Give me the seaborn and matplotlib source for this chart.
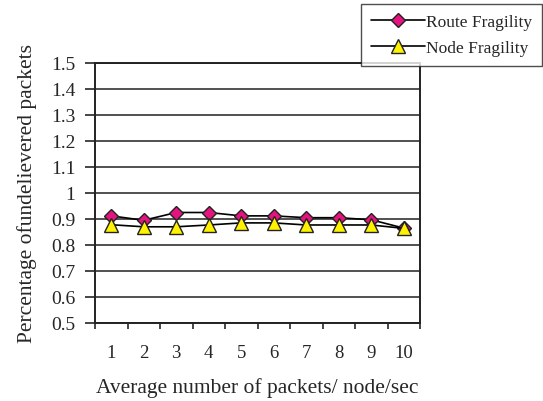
import matplotlib
matplotlib.use("Agg")
import matplotlib.pyplot as plt
from matplotlib.ticker import FixedLocator
import seaborn as sns

# Offered load (packets per node per second)
load = [1, 2, 3, 4, 5, 6, 7, 8, 9, 10]
route_fragility = [0.912, 0.895, 0.925, 0.925, 0.912, 0.912, 0.905, 0.905, 0.897, 0.865]
node_fragility = [0.878, 0.870, 0.870, 0.877, 0.885, 0.885, 0.877, 0.877, 0.877, 0.864]
y_ticks = [0.5, 0.6, 0.7, 0.8, 0.9, 1, 1.1, 1.2, 1.3, 1.4, 1.5]
y_tick_labels = ["0.5", "0.6", "0.7", "0.8", "0.9", "1", "1.1", "1.2", "1.3", "1.4", "1.5"]

sns.set_style("white")
plt.rcParams["font.family"] = ["Liberation Serif", "DejaVu Serif"]

fig = plt.figure(figsize=(5.43, 4.02), dpi=100)
ax = fig.add_axes([95 / 543, 1 - 324 / 402, 325 / 543, 260 / 402])

for ys, marker, face, ms, name in [
    (route_fragility, "D", "#E4147F", 7.5, "Route Fragility"),
    (node_fragility, "^", "#FFF200", 10, "Node Fragility"),
]:
    sns.lineplot(x=load, y=ys, ax=ax, color="black", linewidth=1.2,
                 marker=marker, markersize=ms, markerfacecolor=face,
                 markeredgecolor="#222222", markeredgewidth=1.0, label=name)

ax.set_xlim(0.5, 10.5)
ax.set_ylim(0.5, 1.5)
ax.set_yticks(y_ticks)
ax.set_yticklabels(y_tick_labels)
ax.set_xticks(load)
ax.set_xticklabels([str(v) for v in load])
ax.xaxis.set_minor_locator(FixedLocator([v + 0.5 for v in range(0, 11)]))
ax.tick_params(axis="x", which="major", length=0, pad=15, labelsize=13.5)
ax.tick_params(axis="x", which="minor", length=4, width=1.2, direction="out", bottom=True)
ax.tick_params(axis="y", which="major", length=7, width=1.2, direction="out", left=True,
               pad=7, labelsize=14)

ax.grid(axis="y", color="#222222", linewidth=1.1)
ax.grid(axis="x", visible=False)
for side in ["left", "bottom", "right", "top"]:
    ax.spines[side].set_visible(True)
    ax.spines[side].set_color("#222222")
    ax.spines[side].set_linewidth(1.4)

ax.set_xlabel("Average number of packets/ node/sec", fontsize=15.5, labelpad=12)
ax.set_ylabel("Percentage ofundelievered packets", fontsize=15.5, labelpad=10)

handles, labels = ax.get_legend_handles_labels()
ax.get_legend().remove()
leg = fig.legend(handles, labels, loc="upper right", bbox_to_anchor=(542 / 543, 1 - 5 / 402),
                 fontsize=12.5, frameon=True, fancybox=False, handlelength=3.1,
                 borderpad=0.55, labelspacing=0.6, handletextpad=0.1, borderaxespad=0)
leg.get_frame().set_edgecolor("#222222")
leg.get_frame().set_linewidth(1.0)

fig.savefig("out.png", dpi=100)
